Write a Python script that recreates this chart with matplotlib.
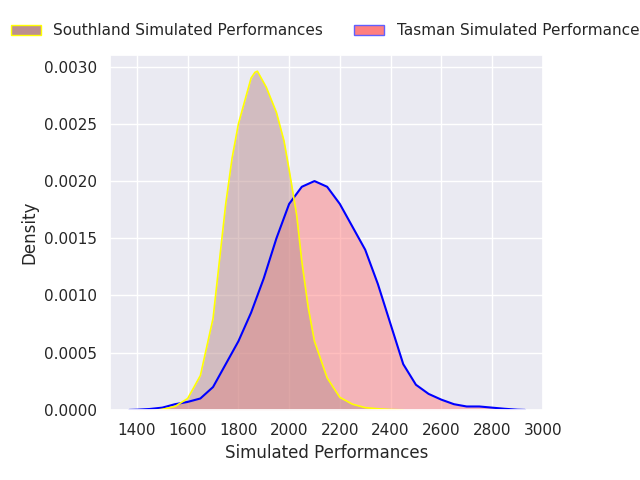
import matplotlib
matplotlib.use("Agg")
import matplotlib.pyplot as plt
import seaborn as sns
from matplotlib.patches import Patch

sns.set_theme()

south_x = [1480, 1500, 1550, 1600, 1650, 1700, 1725, 1750, 1775, 1800, 1825, 1850, 1865, 1875, 1890, 1910, 1950, 1980, 2000, 2030, 2050, 2075, 2100, 2150, 2200, 2250, 2300, 2350, 2400, 2450]
south_y = [0, 0.000005, 0.00003, 0.0001, 0.0003, 0.0008, 0.0013, 0.0018, 0.0022, 0.0025, 0.0027, 0.0029, 0.00295, 0.00296, 0.0029, 0.00282, 0.0026, 0.00235, 0.0021, 0.0017, 0.0013, 0.0009, 0.0006, 0.00028, 0.00011, 0.00005, 0.00002, 0.00001, 0.000003, 0]

tas_x = [1370, 1400, 1450, 1500, 1550, 1600, 1650, 1700, 1750, 1800, 1850, 1900, 1950, 2000, 2050, 2100, 2150, 2200, 2250, 2300, 2350, 2400, 2450, 2500, 2550, 2600, 2650, 2700, 2750, 2800, 2850, 2900, 2930]
tas_y = [0, 0.000002, 0.000008, 0.00002, 0.00005, 0.00007, 0.0001, 0.0002, 0.0004, 0.0006, 0.00085, 0.00115, 0.0015, 0.0018, 0.00195, 0.0020, 0.00195, 0.0018, 0.0016, 0.0014, 0.0011, 0.00075, 0.0004, 0.00022, 0.00014, 0.00009, 0.00005, 0.00003, 0.00003, 0.00002, 0.00001, 0.000002, 0]

fig, ax = plt.subplots(figsize=(6.4, 4.8), dpi=100)
fig.subplots_adjust(left=0.172, right=0.848, top=0.885, bottom=0.146)

ax.fill_between(tas_x, tas_y, color="#ff7f7f", alpha=0.5, lw=0)
ax.plot(tas_x, tas_y, color="blue", lw=1.5)
ax.fill_between(south_x, south_y, color="rosybrown", alpha=0.5, lw=0)
ax.plot(south_x, south_y, color="yellow", lw=1.2)

ax.set_xlim(1294, 2992)
ax.set_ylim(0, 0.0031)
ax.set_xticks(range(1400, 3001, 200))
ax.set_xlabel("Simulated Performances")
ax.set_ylabel("Density")

handles = [Patch(facecolor="rosybrown", edgecolor="yellow", label="Southland Simulated Performances"),
           Patch(facecolor="#ff7f7f", edgecolor="#6060ff", label="Tasman Simulated Performances")]
fig.legend(handles=handles, loc="upper left", ncol=2, frameon=False,
           bbox_to_anchor=(-0.005, 0.98))

fig.savefig("out.png")
